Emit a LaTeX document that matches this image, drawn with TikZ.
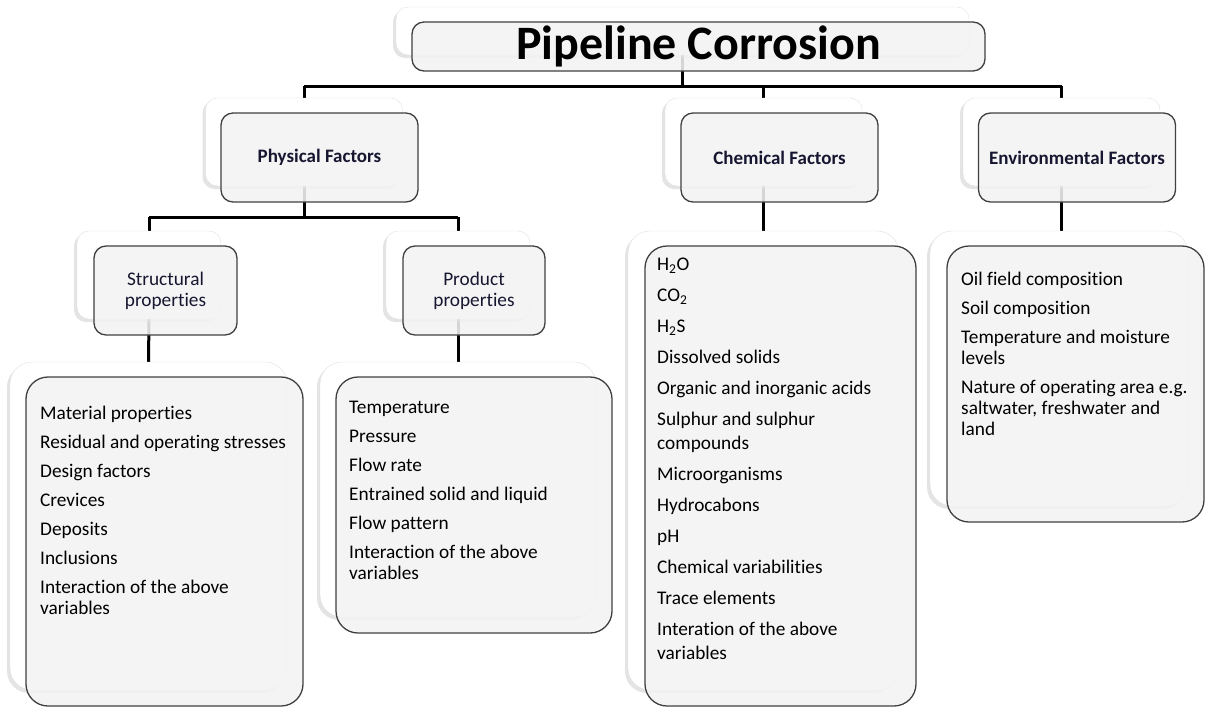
\documentclass[tikz,border=0pt]{standalone}
\usepackage{fontspec}
\setmainfont{Carlito}[Ligatures=NoCommon]
\usepackage{xcolor}
\usepackage{tikz}
\usetikzlibrary{shadows}
\pgfdeclarelayer{bg}
\pgfsetlayers{bg,main}
\definecolor{boxgray}{RGB}{243,243,243}
\definecolor{headblue}{RGB}{22,22,48}
\tikzset{
    box/.style = {align=center, inner sep=0pt, text centered},
    back_box/.style = {box, draw=black!12, fill=white, rounded corners=12pt,
        general shadow={fill=black!30, shadow xshift=-3pt, shadow yshift=-3pt, opacity=0.35}},
    front_box/.style = {box, draw=black!75, line width=1.3pt, fill=boxgray, fill opacity=0.88,
        text opacity=1, rounded corners=12pt},
    big/.style = {rounded corners=22pt},
    head_text/.style = {font=\fontsize{19}{21}\selectfont\bfseries, text=headblue},
    sub_text/.style = {font=\fontsize{19.3}{21}\selectfont, text=headblue},
    list_text/.style = {anchor=north west, inner sep=0pt, align=left, font=\fontsize{19.3}{21}\selectfont},
    link/.style = {line width=3pt}
}

\begin{document}
\begin{tikzpicture}[x=1pt, y=-1pt]
    \useasboundingbox (0,0) rectangle (1205,707);

    % title
    \node [back_box, minimum width=573, minimum height=48] (title_b) at (682.5,31) {};
    \node [front_box, minimum width=573, minimum height=49,
        font=\fontsize{48}{52}\selectfont\bfseries] (title) at (698.5,46.5) {Pipeline Corrosion};

    % first level
    \node [back_box, minimum width=197, minimum height=88] (phys_b) at (304,142) {};
    \node [front_box, head_text, minimum width=197, minimum height=89] (phys) at (319.5,157.5) {Physical Factors};
    \node [back_box, minimum width=197, minimum height=88] (chem_b) at (763.5,142) {};
    \node [front_box, head_text, minimum width=197, minimum height=89] (chem) at (779.5,157.5) {Chemical Factors};
    \node [back_box, minimum width=197, minimum height=88] (env_b) at (1061.5,142) {};
    \node [front_box, head_text, minimum width=197, minimum height=89] (env) at (1077,157.5) {Environmental Factors};

    % second level
    \node [back_box, minimum width=144, minimum height=88] (struct_b) at (149,275) {};
    \node [front_box, sub_text, minimum width=143, minimum height=89] (struct) at (165.5,290.5) {Structural\\properties};
    \node [back_box, minimum width=144, minimum height=88] (prod_b) at (458,275) {};
    \node [front_box, sub_text, minimum width=142, minimum height=89] (prod) at (474,290.5) {Product\\properties};

    % lists
    \node [back_box, big, minimum width=277, minimum height=328] (struct_list_b) at (148.5,526) {};
    \node [front_box, big, minimum width=277, minimum height=329] (struct_list) at (164.5,541.5) {};
    \node [back_box, big, minimum width=276, minimum height=255] (prod_list_b) at (458,489.5) {};
    \node [front_box, big, minimum width=276, minimum height=256] (prod_list) at (474,505) {};
    \node [back_box, big, minimum width=271, minimum height=459] (chem_list_b) at (763.5,460.5) {};
    \node [front_box, big, minimum width=271, minimum height=460] (chem_list) at (780.5,476) {};
    \node [back_box, big, minimum width=258, minimum height=275] (env_list_b) at (1059,368.5) {};
    \node [front_box, big, minimum width=257, minimum height=276] (env_list) at (1075.5,384) {};

    \node [list_text] (struct_txt) at (40,406) {Material properties\\[8pt]
        Residual and operating stresses\\[8pt] Design factors\\[8pt] Crevices\\[8pt]
        Deposits\\[8pt] Inclusions\\[8pt] Interaction of the above\\variables};
    \node [list_text] (prod_txt) at (349,401) {Temperature\\[8pt] Pressure\\[8pt] Flow rate\\[8pt]
        Entrained solid and liquid\\[8pt] Flow pattern\\[8pt] Interaction of the above\\variables};
    \node [list_text, font=\fontsize{19.3}{24}\selectfont] (chem_txt) at (657,258)
        {H\textsubscript{2}O\\[7pt] CO\textsubscript{2}\\[7pt] H\textsubscript{2}S\\[7pt]
        Dissolved solids\\[7pt] Organic and inorganic acids\\[7pt] Sulphur and sulphur\\compounds\\[7pt]
        Microorganisms\\[7pt] Hydrocabons\\[7pt] pH\\[7pt] Chemical variabilities\\[7pt]
        Trace elements\\[7pt] Interation of the above\\variables};
    \node [list_text] (env_txt) at (961,272) {Oil field composition\\[8pt] Soil composition\\[8pt]
        Temperature and moisture\\levels\\[8pt] Nature of operating area e.g.\\saltwater, freshwater and\\land};

    % connectors
    \coordinate (bus_a) at (0,86);
    \coordinate (bus_b) at (0,217);
    \begin{pgfonlayer}{bg}
        \draw [link] (title_b.south) -- (title_b.south |- bus_a);
        \draw [link] (phys_b.north |- bus_a) -- (env_b.north |- bus_a);
        \draw [link] (phys_b.north |- bus_a) -- (phys_b.north);
        \draw [link] (chem_b.north |- bus_a) -- (chem_b.north);
        \draw [link] (env_b.north |- bus_a) -- (env_b.north);
        \draw [link] (phys_b.south) -- (phys_b.south |- phys.south) -- (phys_b.south |- bus_b);
        \draw [link] (struct_b.north |- bus_b) -- (prod_b.north |- bus_b);
        \draw [link] (struct_b.north |- bus_b) -- (struct_b.north);
        \draw [link] (prod_b.north |- bus_b) -- (prod_b.north);
        \draw [link] (struct_b.south) -- (struct_list_b.north);
        \draw [link] (prod_b.south) -- (prod_list_b.north);
        \draw [link] (chem_b.south) -- (chem_list_b.north);
        \draw [link] (env_b.south) -- (env_b.south |- env_list_b.north);
    \end{pgfonlayer}
\end{tikzpicture}
\end{document}
